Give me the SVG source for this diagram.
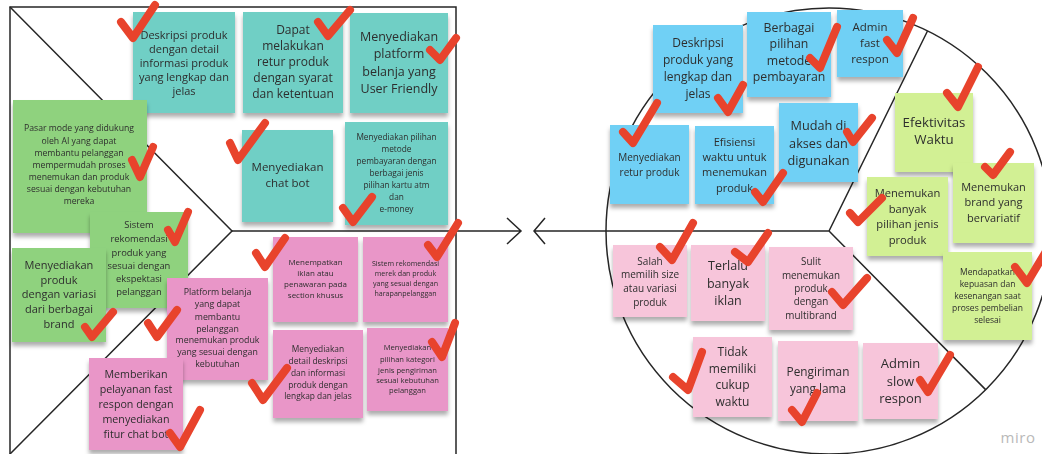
<svg xmlns="http://www.w3.org/2000/svg" width="1042" height="454" viewBox="0 0 1042 454">
<style>
.ln{fill:none;stroke:#262626;stroke-width:1.5}
.n{filter:url(#sh)}
.teal{fill:#6fcfc5}.grn{fill:#8fd27e}.pk{fill:#e996c8}
.blue{fill:#6fd0f5}.lime{fill:#d2f094}.lpk{fill:#f7c5da}
text{font-family:"Open Sans","Noto Sans","Liberation Sans",sans-serif;fill:#2e2e2e;text-anchor:middle}
.chk{fill:none;stroke:#e8432c;stroke-width:8;stroke-linecap:round;stroke-linejoin:round}
</style>
<defs>
<filter id="sh" x="-10%" y="-10%" width="120%" height="125%">
<feDropShadow dx="0" dy="4" stdDeviation="2.2" flood-color="#000" flood-opacity="0.32"/>
</filter>
</defs>
<rect width="1042" height="454" fill="#fff"/>
<g id="canvas">
<path class="ln" d="M10,454 V7 H456 V454"/>
<path class="ln" d="M10,7 L232,231 L10,454"/>
<circle class="ln" cx="829" cy="231" r="223"/>
<path class="ln" d="M607,231 H829 L927.5,31 M829,231 L985.6,389.6"/>
</g>
<g id="connectors">
<path class="ln" d="M232,231 H521 M507,218 L521,231 L507,244"/>
<path class="ln" d="M607,231 H534 M545,218 L534,231 L545,244"/>
</g>
<g id="n1" class="n"><rect class="teal" x="133" y="12" width="102" height="101"/>
<text font-size="11"><tspan x="184" y="38.5">Deskripsi produk</tspan><tspan x="184" y="52.5">dengan detail</tspan><tspan x="184" y="66.5">informasi produk</tspan><tspan x="184" y="80.5">yang lengkap dan</tspan><tspan x="184" y="94.5">jelas</tspan></text></g>
<g id="n2" class="n"><rect class="teal" x="243" y="12" width="100" height="101"/>
<text font-size="12"><tspan x="293" y="34">Dapat</tspan><tspan x="293" y="50">melakukan</tspan><tspan x="293" y="66">retur produk</tspan><tspan x="293" y="82">dengan syarat</tspan><tspan x="293" y="98">dan ketentuan</tspan></text></g>
<g id="n3" class="n"><rect class="teal" x="350" y="13" width="98" height="100"/>
<text font-size="12.5"><tspan x="399" y="40.5">Menyediakan</tspan><tspan x="399" y="58">platform</tspan><tspan x="399" y="75.5">belanja yang</tspan><tspan x="399" y="93">User Friendly</tspan></text></g>
<g id="n4" class="n"><rect class="teal" x="242" y="130" width="91" height="92"/>
<text font-size="11.5"><tspan x="287.5" y="171">Menyediakan</tspan><tspan x="287.5" y="187">chat bot</tspan></text></g>
<g id="n5" class="n"><rect class="teal" x="345" y="122" width="103" height="103"/>
<text font-size="8.3"><tspan x="396.5" y="140">Menyediakan pilihan</tspan><tspan x="396.5" y="152">metode</tspan><tspan x="396.5" y="164">pembayaran dengan</tspan><tspan x="396.5" y="176">berbagai jenis</tspan><tspan x="396.5" y="188">pilihan kartu atm</tspan><tspan x="396.5" y="200">dan</tspan><tspan x="396.5" y="212">e-money</tspan></text></g>
<g id="g1" class="n"><rect class="grn" x="13" y="100" width="134" height="133"/>
<text font-size="8.7"><tspan x="79" y="131">Pasar mode yang didukung</tspan><tspan x="79" y="144">oleh AI yang dapat</tspan><tspan x="79" y="156">membantu pelanggan</tspan><tspan x="79" y="168">mempermudah proses</tspan><tspan x="79" y="180">menemukan dan produk</tspan><tspan x="79" y="192">sesuai dengan kebutuhan</tspan><tspan x="79" y="204">mereka</tspan></text></g>
<g id="g2" class="n"><rect class="grn" x="90" y="212" width="98" height="96"/>
<text font-size="9.4"><tspan x="139" y="228">Sistem</tspan><tspan x="139" y="242">rekomendasi</tspan><tspan x="139" y="256">produk yang</tspan><tspan x="139" y="269">sesuai dengan</tspan><tspan x="139" y="282">ekspektasi</tspan><tspan x="139" y="295">pelanggan</tspan></text></g>
<g id="g3" class="n"><rect class="grn" x="12" y="248" width="94" height="94"/>
<text font-size="11"><tspan x="59" y="269">Menyediakan</tspan><tspan x="59" y="284">produk</tspan><tspan x="59" y="298">dengan variasi</tspan><tspan x="59" y="313">dari berbagai</tspan><tspan x="59" y="328">brand</tspan></text></g>
<g id="p1" class="n"><rect class="pk" x="167" y="278" width="101" height="102"/>
<text font-size="8.8"><tspan x="217.5" y="295">Platform belanja</tspan><tspan x="217.5" y="307">yang dapat</tspan><tspan x="217.5" y="320">membantu</tspan><tspan x="217.5" y="332">pelanggan</tspan><tspan x="217.5" y="343">menemukan produk</tspan><tspan x="217.5" y="355">yang sesuai dengan</tspan><tspan x="217.5" y="367">kebutuhan</tspan></text></g>
<g id="p2" class="n"><rect class="pk" x="89" y="358" width="94" height="92"/>
<text font-size="10.7"><tspan x="136" y="378">Memberikan</tspan><tspan x="136" y="393">pelayanan fast</tspan><tspan x="136" y="408">respon dengan</tspan><tspan x="136" y="423">menyediakan</tspan><tspan x="136" y="438">fitur chat bot</tspan></text></g>
<g id="p3" class="n"><rect class="pk" x="273" y="237" width="85" height="85"/>
<text font-size="8"><tspan x="315.5" y="265">Menempatkan</tspan><tspan x="315.5" y="276">iklan atau</tspan><tspan x="315.5" y="287">penawaran pada</tspan><tspan x="315.5" y="298">section khusus</tspan></text></g>
<g id="p4" class="n"><rect class="pk" x="363" y="237" width="85" height="85"/>
<text font-size="7.1"><tspan x="405.5" y="265.5">Sistem rekomendasi</tspan><tspan x="405.5" y="275.5">merek dan produk</tspan><tspan x="405.5" y="285.5">yang sesuai dengan</tspan><tspan x="405.5" y="295.5">harapanpelanggan</tspan></text></g>
<g id="p5" class="n"><rect class="pk" x="273" y="330" width="90" height="88"/>
<text font-size="8.4"><tspan x="318" y="352">Menyediakan</tspan><tspan x="318" y="364">detail deskripsi</tspan><tspan x="318" y="376">dan informasi</tspan><tspan x="318" y="388">produk dengan</tspan><tspan x="318" y="399">lengkap dan jelas</tspan></text></g>
<g id="p6" class="n"><rect class="pk" x="367" y="328" width="81" height="83"/>
<text font-size="7.6"><tspan x="407.5" y="350">Menyediakan</tspan><tspan x="407.5" y="362">pilihan kategori</tspan><tspan x="407.5" y="373">jenis pengiriman</tspan><tspan x="407.5" y="383">sesuai kebutuhan</tspan><tspan x="407.5" y="393">pelanggan</tspan></text></g>
<g id="b1" class="n"><rect class="blue" x="653" y="25" width="90" height="88"/>
<text font-size="12"><tspan x="698" y="47">Deskripsi</tspan><tspan x="698" y="64">produk yang</tspan><tspan x="698" y="81">lengkap dan</tspan><tspan x="698" y="98">jelas</tspan></text></g>
<g id="b2" class="n"><rect class="blue" x="747" y="12" width="84" height="85"/>
<text font-size="12.3"><tspan x="789" y="32">Berbagai</tspan><tspan x="789" y="48">pilihan</tspan><tspan x="789" y="65">metode</tspan><tspan x="789" y="81">pembayaran</tspan></text></g>
<g id="b3" class="n"><rect class="blue" x="837" y="10" width="66" height="67"/>
<text font-size="11.5"><tspan x="870" y="31">Admin</tspan><tspan x="870" y="47">fast</tspan><tspan x="870" y="63">respon</tspan></text></g>
<g id="b4" class="n"><rect class="blue" x="610" y="125" width="79" height="79"/>
<text font-size="10"><tspan x="649.5" y="160.5">Menyediakan</tspan><tspan x="649.5" y="175.5">retur produk</tspan></text></g>
<g id="b5" class="n"><rect class="blue" x="695" y="126" width="79" height="78"/>
<text font-size="11"><tspan x="734.5" y="146">Efisiensi</tspan><tspan x="734.5" y="161">waktu untuk</tspan><tspan x="734.5" y="176">menemukan</tspan><tspan x="734.5" y="192">produk</tspan></text></g>
<g id="b6" class="n"><rect class="blue" x="779" y="103" width="79" height="79"/>
<text font-size="12.7"><tspan x="818.5" y="129.5">Mudah di</tspan><tspan x="818.5" y="147.5">akses dan</tspan><tspan x="818.5" y="164.5">digunakan</tspan></text></g>
<g id="l1" class="n"><rect class="lime" x="895" y="93" width="78" height="79"/>
<text font-size="13.3"><tspan x="934" y="127">Efektivitas</tspan><tspan x="934" y="144">Waktu</tspan></text></g>
<g id="l2" class="n"><rect class="lime" x="953" y="163" width="81" height="80"/>
<text font-size="11"><tspan x="993.5" y="191">Menemukan</tspan><tspan x="993.5" y="206">brand yang</tspan><tspan x="993.5" y="222">bervariatif</tspan></text></g>
<g id="l3" class="n"><rect class="lime" x="867" y="177" width="81" height="79"/>
<text font-size="11.2"><tspan x="907.5" y="197">Menemukan</tspan><tspan x="907.5" y="212.5">banyak</tspan><tspan x="907.5" y="228">pilihan jenis</tspan><tspan x="907.5" y="243.5">produk</tspan></text></g>
<g id="l4" class="n"><rect class="lime" x="943" y="252" width="89" height="88"/>
<text font-size="8.5"><tspan x="987.5" y="275">Mendapatkan</tspan><tspan x="987.5" y="287">kepuasan dan</tspan><tspan x="987.5" y="299">kesenangan saat</tspan><tspan x="987.5" y="311">proses pembelian</tspan><tspan x="987.5" y="323">selesai</tspan></text></g>
<g id="k1" class="n"><rect class="lpk" x="613" y="245" width="74" height="72"/>
<text font-size="10"><tspan x="650" y="264.5">Salah</tspan><tspan x="650" y="277.5">memilih size</tspan><tspan x="650" y="291.5">atau variasi</tspan><tspan x="650" y="305.5">produk</tspan></text></g>
<g id="k2" class="n"><rect class="lpk" x="691" y="245" width="74" height="76"/>
<text font-size="12.5"><tspan x="728" y="269.5">Terlalu</tspan><tspan x="728" y="287.5">banyak</tspan><tspan x="728" y="304.5">iklan</tspan></text></g>
<g id="k3" class="n"><rect class="lpk" x="769" y="247" width="84" height="83"/>
<text font-size="9.9"><tspan x="811" y="264.5">Sulit</tspan><tspan x="811" y="278.5">menemukan</tspan><tspan x="811" y="291.5">produk</tspan><tspan x="811" y="304.5">dengan</tspan><tspan x="811" y="318.5">multibrand</tspan></text></g>
<g id="k4" class="n"><rect class="lpk" x="693" y="337" width="79" height="80"/>
<text font-size="12"><tspan x="732.5" y="356">Tidak</tspan><tspan x="732.5" y="373">memiliki</tspan><tspan x="732.5" y="389">cukup</tspan><tspan x="732.5" y="406">waktu</tspan></text></g>
<g id="k5" class="n"><rect class="lpk" x="778" y="341" width="80" height="80"/>
<text font-size="11.8"><tspan x="818" y="376">Pengiriman</tspan><tspan x="818" y="393">yang lama</tspan></text></g>
<g id="k6" class="n"><rect class="lpk" x="863" y="343" width="75" height="76"/>
<text font-size="13"><tspan x="900.5" y="367.5">Admin</tspan><tspan x="900.5" y="385.5">slow</tspan><tspan x="900.5" y="402.5">respon</tspan></text></g>
<g id="checks">
<path class="chk" d="M121,22 L133,38 L155,5"/>
<path class="chk" d="M318,22 L328,36 L350,10"/>
<path class="chk" d="M430,50 L440,60 L456,38"/>
<path class="chk" d="M132,160 L140,177 L153,147"/>
<path class="chk" d="M230,143 L238,160 L265,123"/>
<path class="chk" d="M343,208 L353,222 L372,197"/>
<path class="chk" d="M168,230 L175,242 L188,212"/>
<path class="chk" d="M428,245 L437,257 L458,223"/>
<path class="chk" d="M85,327 L92,337 L113,312"/>
<path class="chk" d="M148,323 L157,337 L177,310"/>
<path class="chk" d="M256,253 L265,267 L285,238"/>
<path class="chk" d="M252,383 L263,400 L287,368"/>
<path class="chk" d="M432,342 L442,357 L455,323"/>
<path class="chk" d="M170,433 L180,447 L200,410"/>
<path class="chk" d="M810,58 L820,68 L837,27"/>
<path class="chk" d="M887,40 L897,53 L913,18"/>
<path class="chk" d="M718,98 L728,112 L743,85"/>
<path class="chk" d="M623,132 L633,143 L657,103"/>
<path class="chk" d="M755,192 L763,202 L783,173"/>
<path class="chk" d="M847,132 L853,142 L872,118"/>
<path class="chk" d="M947,93 L958,107 L978,67"/>
<path class="chk" d="M985,167 L993,175 L1010,152"/>
<path class="chk" d="M850,213 L858,222 L882,198"/>
<path class="chk" d="M660,247 L672,260 L693,223"/>
<path class="chk" d="M735,252 L748,262 L768,233"/>
<path class="chk" d="M832,292 L843,305 L867,278"/>
<path class="chk" d="M1015,267 L1027,283 L1045,253"/>
<path class="chk" d="M673,377 L688,390 L702,352"/>
<path class="chk" d="M792,410 L802,422 L817,393"/>
<path class="chk" d="M920,380 L928,392 L950,355"/>
</g>
<text x="1018" y="443" font-size="15" style="fill:#b9b9b9" letter-spacing="0.5">miro</text>
</svg>
